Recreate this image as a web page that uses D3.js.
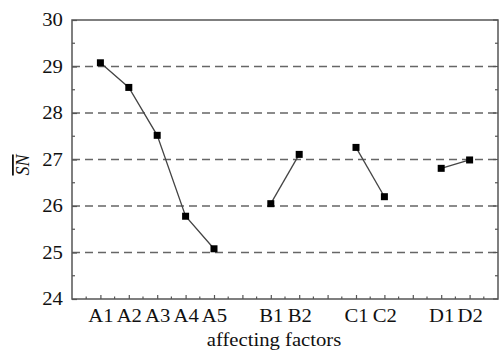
<!DOCTYPE html>
<html>
<head>
<meta charset="utf-8">
<script src="https://cdn.jsdelivr.net/npm/d3@7"></script>
<style>
  html, body { margin: 0; padding: 0; background: #fff; }
  svg { display: block; }
  svg text { font-family: "Liberation Serif", "Times New Roman", serif; }
</style>
</head>
<body>
<svg id="chart" width="500" height="351"></svg>
<script>
// Factor levels and their mean S/N ratios, grouped by factor
const levelLabels = ["A1", "A2", "A3", "A4", "A5", "B1", "B2", "C1", "C2", "D1", "D2"];
const levelPositions = [1, 2, 3, 4, 5, 7, 8, 10, 11, 13, 14];
const snValues = [29.08, 28.55, 27.52, 25.78, 25.08, 26.05, 27.11, 27.26, 26.2, 26.81, 26.99];
const factorGroups = ["A", "A", "A", "A", "A", "B", "B", "C", "C", "D", "D"];
const yTicks = [24, 25, 26, 27, 28, 29, 30];
const gridValues = [25, 26, 27, 28, 29];

const svg = d3.select("#chart");
const plotLeft = 72, plotRight = 498, plotTop = 20, plotBottom = 299;
const serif = '"Liberation Serif", "Times New Roman", serif';
const wide = "scale(1.15,1)";   // slightly widened lettering

const x = d3.scaleLinear().domain([0, 15]).range([plotLeft, plotRight]);
const y = d3.scaleLinear().domain([24, 30]).range([plotBottom, plotTop]);

const frameColor = "#555";

// dashed horizontal reference lines
svg.append("g").selectAll("line").data(gridValues).join("line")
  .attr("x1", plotLeft).attr("x2", plotRight)
  .attr("y1", d => y(d)).attr("y2", d => y(d))
  .attr("stroke", "#666").attr("stroke-width", 1.6)
  .attr("stroke-dasharray", "8,5");

// plot frame
svg.append("rect")
  .attr("x", plotLeft).attr("y", plotTop)
  .attr("width", plotRight - plotLeft).attr("height", plotBottom - plotTop)
  .attr("fill", "none").attr("stroke", frameColor).attr("stroke-width", 1.5);

// left axis: major labelled ticks and minor half-unit ticks, pointing inward
const yAxis = d3.axisLeft(y).tickValues(yTicks).tickSize(-5).tickPadding(8).tickFormat(d3.format("d"));
const gy = svg.append("g").attr("transform", `translate(${plotLeft},0)`).call(yAxis);
gy.attr("font-family", null).attr("font-size", null);
gy.select(".domain").remove();
gy.selectAll(".tick line").attr("stroke", frameColor).attr("stroke-width", 1.2);
gy.selectAll(".tick text").style("font-size", "18px").style("font-family", serif)
  .attr("fill", "#111").attr("transform", wide);

const yMinor = d3.range(24.5, 30, 1);
svg.append("g").selectAll("line").data(yMinor).join("line")
  .attr("x1", plotLeft).attr("x2", plotLeft + 3)
  .attr("y1", d => y(d)).attr("y2", d => y(d))
  .attr("stroke", frameColor).attr("stroke-width", 1.2);

// right axis mirror ticks
svg.append("g").selectAll("line").data(yTicks.concat(yMinor)).join("line")
  .attr("x1", plotRight).attr("x2", d => Number.isInteger(d) ? plotRight - 5 : plotRight - 3)
  .attr("y1", d => y(d)).attr("y2", d => y(d))
  .attr("stroke", frameColor).attr("stroke-width", 1.2);

// bottom axis: ticks at every position, labels only at factor levels
const xMajor = d3.range(1, 15);
const xAxis = d3.axisBottom(x).tickValues(xMajor).tickSize(-4).tickPadding(10)
  .tickFormat(d => { const i = levelPositions.indexOf(d); return i >= 0 ? levelLabels[i] : ""; });
const gx = svg.append("g").attr("transform", `translate(0,${plotBottom})`).call(xAxis);
gx.attr("font-family", null).attr("font-size", null);
gx.select(".domain").remove();
gx.selectAll(".tick line").attr("stroke", frameColor).attr("stroke-width", 1.2);
gx.selectAll(".tick text").style("font-size", "18px").style("font-family", serif)
  .attr("fill", "#111").attr("transform", wide);

const xMinor = d3.range(0.5, 15, 1);
svg.append("g").selectAll("line").data(xMinor).join("line")
  .attr("x1", d => x(d)).attr("x2", d => x(d))
  .attr("y1", plotBottom).attr("y2", plotBottom - 2.5)
  .attr("stroke", frameColor).attr("stroke-width", 1.2);

// data points
const points = levelLabels.map((lab, i) => ({
  label: lab, pos: levelPositions[i], value: snValues[i], group: factorGroups[i]
}));
const groups = d3.groups(points, d => d.group);

const line = d3.line().x(d => x(d.pos)).y(d => y(d.value));
svg.append("g").selectAll("path").data(groups).join("path")
  .attr("d", d => line(d[1]))
  .attr("fill", "none").attr("stroke", "#444").attr("stroke-width", 1.3);

svg.append("g").selectAll("rect").data(points).join("rect")
  .attr("x", d => x(d.pos) - 3.5).attr("y", d => y(d.value) - 3.5)
  .attr("width", 7).attr("height", 7)
  .attr("fill", "#000");

// axis titles
svg.append("g").attr("transform", "translate(274,346)")
  .append("text")
  .attr("transform", wide)
  .attr("text-anchor", "middle").style("font-size", "18px").attr("fill", "#111")
  .text("affecting factors");

svg.append("text")
  .attr("transform", "translate(29,165) rotate(-90)")
  .attr("text-anchor", "middle").style("font-size", "18px").attr("fill", "#111")
  .attr("font-style", "italic")
  .attr("text-decoration", "overline")
  .text("SN");
</script>
</body>
</html>
